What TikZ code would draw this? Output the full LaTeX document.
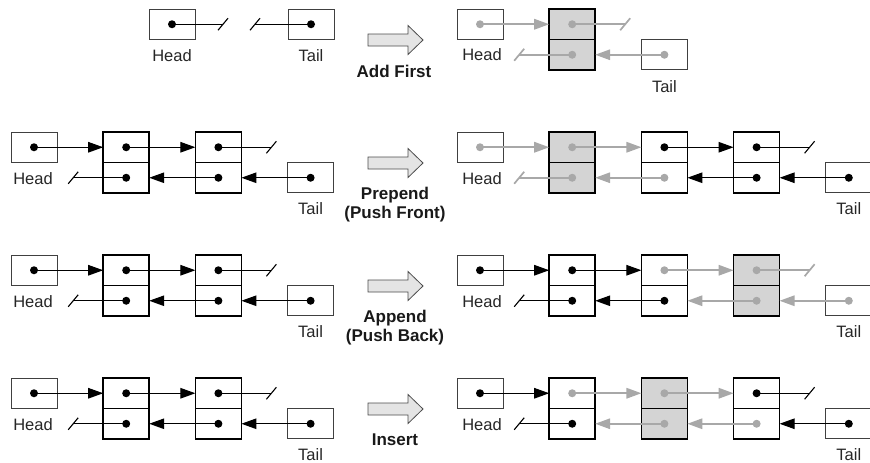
\documentclass[tikz,border=0pt]{standalone}
\usepackage{fontspec}
\setmainfont{Liberation Sans}
\usetikzlibrary{arrows.meta}
\definecolor{gline}{HTML}{A8A8A8}
\definecolor{shade}{HTML}{D4D4D4}
\definecolor{arrfill}{HTML}{E4E4E4}
\newcommand\listnode[4]{%
  \node[cell,#4] (#1-t) at (#2,#3+15.25) {};
  \node[cell,#4] (#1-b) at (#2,#3+45.75) {};
  \draw[line width=1.5pt] (#1-t.north west) rectangle (#1-b.south east);}
\newcommand\arr[3]{%
  \draw[c#1,-{Triangle[length=15pt,width=10.5pt]}] (#2.center) -- (#3);
  \fill[d#1] (#2.center) circle (4pt);}
\newcommand\nul[3]{%
  \draw[c#1] (#2.center) -- (#3);
  \draw[c#1] (#3) ++(-5,6) -- ++(10,-12);
  \fill[d#1] (#2.center) circle (4pt);}
\newcommand\bigarr[1]{%
  \draw[bigarrow] (368,#1-6) -- (408,#1-6) -- (408,#1-14.5) -- (423,#1) -- (408,#1+14.5) -- (408,#1+6) -- (368,#1+6) -- cycle;}
\newcommand\leftpanel[2]{%
  \node[hbox] (#1H) at (34,#2+15.25) {};
  \node[hbox] (#1T) at (310.6,#2+45.75) {};
  \listnode{#1P}{126.2}{#2}{}
  \listnode{#1Q}{218.4}{#2}{}
  \path (#1Q-t.east) ++(30,0) coordinate (#1n1);
  \path (#1P-b.west) ++(-30,0) coordinate (#1n2);
  \arr{k}{#1H}{#1P-t.west}
  \arr{k}{#1P-t}{#1Q-t.west}
  \nul{k}{#1Q-t}{#1n1}
  \arr{k}{#1T}{#1Q-b.east}
  \arr{k}{#1Q-b}{#1P-b.east}
  \nul{k}{#1P-b}{#1n2}
  \node[lbl] (#1hl) at (33,#2+52) {Head};
  \node[lbl] (#1tl) at (310.6,#2+82) {Tail};}
\begin{document}
\begin{tikzpicture}[x=1pt,y=-1pt,
 cell/.style={rectangle,draw=black,line width=0.9pt,minimum width=46pt,minimum height=30.5pt,inner sep=0pt,outer sep=0pt},
 hbox/.style={rectangle,draw=black!75,line width=0.8pt,minimum width=46pt,minimum height=30pt,inner sep=0pt,outer sep=0pt},
 shaded/.style={fill=shade},
 ck/.style={draw=black,line width=1.1pt},
 cg/.style={draw=gline,line width=1.7pt},
 dk/.style={fill=black},
 dg/.style={fill=gline},
 lbl/.style={font=\fontsize{16.5}{19}\selectfont,anchor=base,inner sep=0pt,text=black!85},
 op/.style={font=\fontsize{17}{20}\selectfont\bfseries,anchor=base,inner sep=0pt,text=black!90},
 bigarrow/.style={draw=black!70,line width=0.8pt,fill=arrfill},
]
\useasboundingbox (0,0) rectangle (870,463);
\clip (0,0) rectangle (870,463);

% ---------- Row 1: Add First ----------
\node[hbox] (aH) at (172,24.25) {};
\node[hbox] (aT) at (311,24.25) {};
\coordinate (an1) at (223,24.25);
\coordinate (an2) at (255,24.25);
\nul{k}{aH}{an1}
\nul{k}{aT}{an2}
\node[lbl] (ahl) at (172,61) {Head};
\node[lbl] (atl) at (311,61) {Tail};
\bigarr{40}
\node[op] (aop) at (394,77) {Add First};
\node[hbox] (aRH) at (480,24.25) {};
\listnode{aA}{572.2}{9}{shaded}
\node[hbox] (aRT) at (664.4,54.75) {};
\path (aA-t.east) ++(30,0) coordinate (am1);
\path (aA-b.west) ++(-30,0) coordinate (am2);
\arr{g}{aRH}{aA-t.west}
\nul{g}{aA-t}{am1}
\arr{g}{aRT}{aA-b.east}
\nul{g}{aA-b}{am2}
\node[lbl] (arhl) at (482,60) {Head};
\node[lbl] (artl) at (664.4,92) {Tail};

% ---------- Row 2: Prepend ----------
\leftpanel{b}{132}
\bigarr{163}
\node[op] (bop1) at (395,199) {Prepend};
\node[op] (bop2) at (395,218) {(Push Front)};
\node[hbox] (bRH) at (480,147.25) {};
\node[hbox] (bRT) at (848.8,177.75) {};
\listnode{bA}{572.2}{132}{shaded}
\listnode{bB}{664.4}{132}{}
\listnode{bC}{756.6}{132}{}
\path (bC-t.east) ++(30,0) coordinate (bm1);
\path (bA-b.west) ++(-30,0) coordinate (bm2);
\arr{g}{bRH}{bA-t.west}
\arr{g}{bA-t}{bB-t.west}
\arr{k}{bB-t}{bC-t.west}
\nul{k}{bC-t}{bm1}
\arr{k}{bRT}{bC-b.east}
\arr{k}{bC-b}{bB-b.east}
\arr{g}{bB-b}{bA-b.east}
\nul{g}{bA-b}{bm2}
\node[lbl] (brhl) at (482,184) {Head};
\node[lbl] (brtl) at (848.8,214) {Tail};

% ---------- Row 3: Append ----------
\leftpanel{c}{255}
\bigarr{286}
\node[op] (cop1) at (395,322) {Append};
\node[op] (cop2) at (395,341) {(Push Back)};
\node[hbox] (cRH) at (480,270.25) {};
\node[hbox] (cRT) at (848.8,300.75) {};
\listnode{cA}{572.2}{255}{}
\listnode{cB}{664.4}{255}{}
\listnode{cC}{756.6}{255}{shaded}
\path (cC-t.east) ++(30,0) coordinate (cm1);
\path (cA-b.west) ++(-30,0) coordinate (cm2);
\arr{k}{cRH}{cA-t.west}
\arr{k}{cA-t}{cB-t.west}
\arr{g}{cB-t}{cC-t.west}
\nul{g}{cC-t}{cm1}
\arr{g}{cRT}{cC-b.east}
\arr{g}{cC-b}{cB-b.east}
\arr{k}{cB-b}{cA-b.east}
\nul{k}{cA-b}{cm2}
\node[lbl] (crhl) at (482,307) {Head};
\node[lbl] (crtl) at (848.8,337) {Tail};

% ---------- Row 4: Insert ----------
\leftpanel{d}{378}
\bigarr{409}
\node[op] (dop1) at (395,445) {Insert};
\node[hbox] (dRH) at (480,393.25) {};
\node[hbox] (dRT) at (848.8,423.75) {};
\listnode{dA}{572.2}{378}{}
\listnode{dB}{664.4}{378}{shaded}
\listnode{dC}{756.6}{378}{}
\path (dC-t.east) ++(30,0) coordinate (dm1);
\path (dA-b.west) ++(-30,0) coordinate (dm2);
\arr{k}{dRH}{dA-t.west}
\arr{g}{dA-t}{dB-t.west}
\arr{g}{dB-t}{dC-t.west}
\nul{k}{dC-t}{dm1}
\arr{k}{dRT}{dC-b.east}
\arr{g}{dC-b}{dB-b.east}
\arr{g}{dB-b}{dA-b.east}
\nul{k}{dA-b}{dm2}
\node[lbl] (drhl) at (482,430) {Head};
\node[lbl] (drtl) at (848.8,460) {Tail};
\end{tikzpicture}
\end{document}
